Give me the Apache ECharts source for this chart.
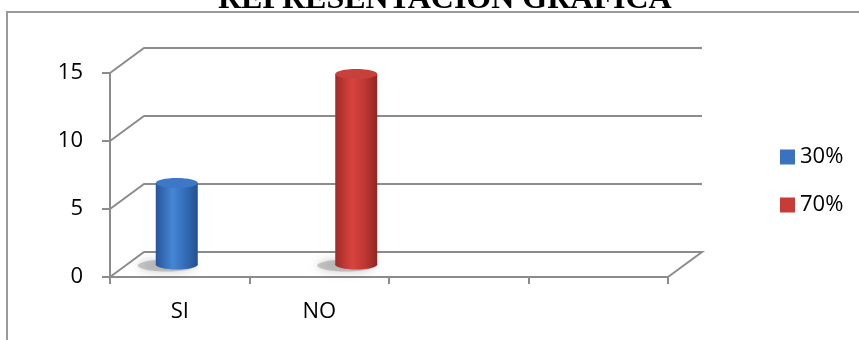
<!DOCTYPE html>
<html>
<head>
<meta charset="utf-8">
<script src="https://cdn.jsdelivr.net/npm/echarts@6/dist/echarts.min.js"></script>
<style>html,body{margin:0;padding:0;background:#fff}#c{width:859px;height:340px}</style>
</head>
<body>
<div id="c"></div>
<script>
const titleText = 'REPRESENTACION GRAFICA';
const categories = ['SI', 'NO', '', ''];
const seriesNames = ['30%', '70%'];
const siValues = [6, null, null, null];
const noValues = [null, 14, null, null];
const yTicks = [0, 5, 10, 15];

const DX = 34, DY = -25, SLOT = 20, BAR_W = 42;
const LINE = '#8c8c8c';

function toData(vals) {
  const out = [];
  vals.forEach((v, i) => { if (v !== null) out.push([i, v]); });
  return out;
}

function cyl(slot, stops, topFill) {
  return function (params, api) {
    const ci = api.value(0), v = api.value(1);
    const base = api.coord([ci, 0]), top = api.coord([ci, v]);
    const cx = base[0] + DX / 2 + slot * SLOT;
    const by = base[1] + DY / 2, ty = top[1] + DY / 2;
    const r = BAR_W / 2, ry = 5;
    const grad = { type: 'linear', x: 0, y: 0, x2: 1, y2: 0, colorStops: stops };
    return {
      type: 'group', children: [
        { type: 'ellipse', shape: { cx: cx - 10, cy: by + 1, rx: r + 8, ry: ry + 1 },
          style: { fill: 'rgba(140,140,140,0.45)', shadowBlur: 10, shadowColor: 'rgba(0,0,0,0.45)' } },
        { type: 'rect', shape: { x: cx - r, y: ty, width: 2 * r, height: by - ty }, style: { fill: grad } },
        { type: 'ellipse', shape: { cx: cx, cy: by, rx: r, ry: ry }, style: { fill: grad } },
        { type: 'ellipse', shape: { cx: cx, cy: ty, rx: r, ry: ry }, style: { fill: topFill } }
      ]
    };
  };
}

const blueStops = [
  { offset: 0, color: '#28559a' }, { offset: 0.4, color: '#4586d4' },
  { offset: 0.75, color: '#3068b2' }, { offset: 1, color: '#22508f' }];
const redStops = [
  { offset: 0, color: '#a02a27' }, { offset: 0.4, color: '#d8443f' },
  { offset: 0.75, color: '#b93531' }, { offset: 1, color: '#8e2522' }];

const chart = echarts.init(document.getElementById('c'), null, { renderer: 'canvas' });
chart.setOption({
  animation: false,
  title: {
    text: titleText, left: 218, top: -16, padding: 0,
    textStyle: { fontFamily: 'Liberation Serif', fontWeight: 'bold', fontSize: 32, color: '#000' }
  },
  graphic: [{
    type: 'rect', shape: { x: 7, y: 12, width: 900, height: 400 },
    style: { fill: 'none', stroke: '#9a9a9a', lineWidth: 2 }, z: -10
  }],
  legend: {
    data: seriesNames, orient: 'vertical', left: 780, top: 146, padding: 0,
    itemWidth: 15, itemHeight: 15, itemGap: 26, icon: 'rect',
    textStyle: { fontFamily: 'Open Sans', fontSize: 22, color: '#000' }
  },
  grid: { left: 110, right: 191, top: 73, bottom: 63 },
  xAxis: {
    type: 'category', data: categories, boundaryGap: true,
    axisLine: { lineStyle: { color: LINE, width: 2 } },
    axisTick: { show: true, length: 7, interval: 0, lineStyle: { color: LINE, width: 2 } },
    axisLabel: { margin: 24, fontFamily: 'Open Sans', fontSize: 22, color: '#000' },
    splitLine: { show: false }
  },
  yAxis: {
    type: 'value', min: 0, max: 15, interval: 5,
    axisLine: { show: true, lineStyle: { color: LINE, width: 2 } },
    axisTick: { show: true, length: 8, lineStyle: { color: LINE, width: 2 } },
    axisLabel: { margin: 27, fontFamily: 'Open Sans', fontSize: 22, color: '#000' },
    splitLine: { show: false }
  },
  series: [
    {
      name: 'plane', type: 'custom', z: 1, silent: true,
      data: yTicks.map(v => [0, v]),
      renderItem: function (params, api) {
        const v = api.value(1);
        const bw = api.size([1, 0])[0];
        const p0 = api.coord([0, v]);
        const p3 = api.coord([categories.length - 1, v]);
        const flx = p0[0] - bw / 2, frx = p3[0] + bw / 2, y = p0[1];
        const pts = [[flx, y], [flx + DX, y + DY], [frx + DX, y + DY]];
        if (v === 0) pts.push([frx, y]);
        return { type: 'polyline', shape: { points: pts }, style: { fill: 'none', stroke: LINE, lineWidth: 2 } };
      }
    },
    {
      name: seriesNames[0], type: 'custom', z: 3, itemStyle: { color: '#3a72c0' },
      data: toData(siValues), renderItem: cyl(-1, blueStops, '#3d78c8')
    },
    {
      name: seriesNames[1], type: 'custom', z: 3, itemStyle: { color: '#c93b36' },
      data: toData(noValues), renderItem: cyl(1, redStops, '#c8403b')
    }
  ]
});
</script>
</body>
</html>
